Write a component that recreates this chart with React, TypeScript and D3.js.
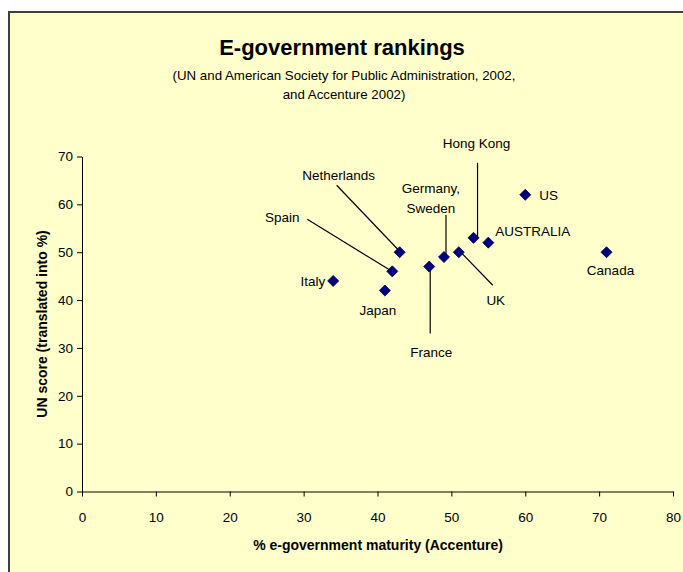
import React, { useEffect, useRef } from 'react';
import * as d3 from 'd3';

// Accenture maturity (%) vs UN score (%)
const countries = ['Italy', 'Japan', 'Spain', 'Netherlands', 'France', 'Germany, Sweden', 'UK', 'Hong Kong', 'AUSTRALIA', 'US', 'Canada'];
const maturity = [34, 41, 42, 43, 47, 49, 51, 53, 55, 60, 71];
const unScore = [44, 42, 46, 50, 47, 49, 50, 53, 52, 62, 50];
const xTicks = [0, 10, 20, 30, 40, 50, 60, 70, 80];
const yTicks = [0, 10, 20, 30, 40, 50, 60, 70];

// label placement relative to the marker (pixels), with optional leader line
const labelOffsets: Record<string, { dx: number; dy: number; anchor: string; line?: number[] }> = {
  'Italy': { dx: -8, dy: 0, anchor: 'end' },
  'Japan': { dx: -7, dy: 20, anchor: 'middle' },
  'Spain': { dx: -110, dy: -54, anchor: 'middle', line: [-85, -52, -2, -1] },
  'Netherlands': { dx: -61, dy: -77, anchor: 'middle', line: [-63, -67, -1, -2] },
  'France': { dx: 2, dy: 86, anchor: 'middle', line: [1, 2, 1, 67] },
  'Germany, Sweden': { dx: -13, dy: -69, anchor: 'middle', line: [2, -42, 2, -2] },
  'UK': { dx: 37, dy: 48, anchor: 'middle', line: [3, 1, 34, 33] },
  'Hong Kong': { dx: 3, dy: -95, anchor: 'middle', line: [4, -1, 4, -75] },
  'AUSTRALIA': { dx: 7, dy: -11, anchor: 'start' },
  'US': { dx: 14, dy: 0, anchor: 'start' },
  'Canada': { dx: 4, dy: 18, anchor: 'middle' },
};

const width = 683;
const height = 572;
const font = 'Liberation Sans, Arial, sans-serif';

const App = () => {
  const svgRef = useRef<SVGSVGElement>(null);

  useEffect(() => {
    const svg = d3.select(svgRef.current);
    svg.selectAll('*').remove();

    // frame
    svg.append('rect')
      .attr('x', 9).attr('y', 12)
      .attr('width', 720).attr('height', 620)
      .attr('fill', '#FFFFCC')
      .attr('stroke', '#404040')
      .attr('stroke-width', 2);

    const x = d3.scaleLinear().domain([0, 80]).range([82, 673]);
    const y = d3.scaleLinear().domain([0, 70]).range([491.5, 156.5]);

    // title
    svg.append('text')
      .attr('x', 342).attr('y', 55)
      .attr('text-anchor', 'middle')
      .style('font-family', font).style('font-size', '22px').style('font-weight', 'bold')
      .text('E-government rankings');
    svg.append('text')
      .attr('x', 344).attr('y', 80)
      .attr('text-anchor', 'middle')
      .style('font-family', font).style('font-size', '13.3px')
      .text('(UN and American Society for Public Administration, 2002,');
    svg.append('text')
      .attr('x', 344).attr('y', 99)
      .attr('text-anchor', 'middle')
      .style('font-family', font).style('font-size', '13.3px')
      .text('and Accenture 2002)');

    // axes
    const xAxis = svg.append('g')
      .attr('transform', `translate(0,${y(0)})`)
      .call(d3.axisBottom(x).tickValues(xTicks).tickSize(5).tickPadding(16).tickSizeOuter(0));
    const yAxis = svg.append('g')
      .attr('transform', `translate(${x(0)},0)`)
      .call(d3.axisLeft(y).tickValues(yTicks).tickSize(5).tickPadding(4).tickSizeOuter(0));
    [xAxis, yAxis].forEach((a) => {
      a.select('.domain').attr('stroke', '#000').attr('stroke-width', 1);
      a.selectAll('.tick line').attr('stroke', '#000');
      a.selectAll('.tick text')
        .style('font-family', font).style('font-size', '13.5px').attr('fill', '#000');
    });

    // axis titles
    svg.append('text')
      .attr('x', 378).attr('y', 550)
      .attr('text-anchor', 'middle')
      .style('font-family', font).style('font-size', '14px').style('font-weight', 'bold')
      .text('% e-government maturity (Accenture)');
    svg.append('text')
      .attr('transform', `translate(47,${(y(0) + y(70)) / 2}) rotate(-90)`)
      .attr('text-anchor', 'middle')
      .style('font-family', font).style('font-size', '14px').style('font-weight', 'bold')
      .text('UN score (translated into %)');

    const points = countries.map((c, i) => ({ name: c, px: x(maturity[i]), py: y(unScore[i]) }));

    // leader lines
    points.forEach((p) => {
      const o = labelOffsets[p.name];
      if (!o.line) return;
      svg.append('line')
        .attr('x1', p.px + o.line[0]).attr('y1', p.py + o.line[1])
        .attr('x2', p.px + o.line[2]).attr('y2', p.py + o.line[3])
        .attr('stroke', '#000').attr('stroke-width', 1.2);
    });

    // markers
    const diamond = d3.symbol().type(d3.symbolDiamond2).size(78);
    svg.append('g').selectAll('path')
      .data(points)
      .enter()
      .append('path')
      .attr('d', diamond)
      .attr('transform', (d) => `translate(${d.px},${d.py})`)
      .attr('fill', '#000080')
      .attr('stroke', '#000050')
      .attr('stroke-width', 0.8);

    // labels
    points.forEach((p) => {
      const o = labelOffsets[p.name];
      const parts = p.name === 'Germany, Sweden' ? ['Germany,', 'Sweden'] : [p.name];
      parts.forEach((t, k) => {
        svg.append('text')
          .attr('x', p.px + o.dx)
          .attr('y', p.py + o.dy + k * 20)
          .attr('dy', '0.35em')
          .attr('text-anchor', o.anchor)
          .style('font-family', font).style('font-size', '13.5px')
          .text(t);
      });
    });
  }, []);

  return (
    <svg
      ref={svgRef}
      width={width}
      height={height}
      style={{ position: 'absolute', left: 0, top: 0, background: '#fff' }}
    />
  );
};

export default App;
